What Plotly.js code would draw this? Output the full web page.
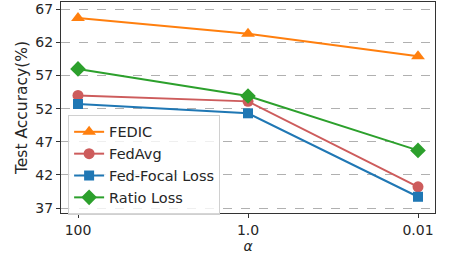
<!DOCTYPE html>
<html><head><meta charset="utf-8">
<script src="https://cdn.plot.ly/plotly-3.0.1.min.js"></script>
<style>html,body{margin:0;padding:0;background:#fff;}#chart{width:451px;height:260px;}</style>
</head><body><div id="chart"></div>
<script>
const alphas = ['100', '1.0', '0.01'];
const fedic = [65.7, 63.3, 59.9];
const fedavg = [54.0, 53.1, 40.2];
const fedFocal = [52.7, 51.3, 38.7];
const ratioLoss = [58.0, 53.9, 45.7];
const yTicks = [37, 42, 47, 52, 57, 62, 67];

function tr(name, y, color, symbol, size) {
  return {x: alphas, y: y, name: name, type: 'scatter', mode: 'lines+markers',
    line: {color: color, width: 2}, marker: {color: color, symbol: symbol, size: size}};
}
const data = [
  tr('FEDIC', fedic, '#ff7f0e', 'triangle-up', 12),
  tr('FedAvg', fedavg, '#cd5c5c', 'circle', 11),
  tr('Fed-Focal Loss', fedFocal, '#1f77b4', 'square', 10),
  tr('Ratio Loss', ratioLoss, '#2ca02c', 'diamond', 12)
];
const layout = {
  width: 451, height: 260,
  margin: {l: 61, r: 16, t: 2, b: 47},
  paper_bgcolor: '#fff', plot_bgcolor: '#fff',
  font: {family: 'DejaVu Sans', size: 14, color: '#262626'},
  showlegend: true,
  legend: {x: 0.019, y: 0.465, xanchor: 'left', yanchor: 'top',
    bgcolor: 'rgba(255,255,255,0.8)', bordercolor: '#d0d0d0', borderwidth: 1,
    font: {family: 'DejaVu Sans', size: 14.5, color: '#262626'}},
  xaxis: {type: 'category', range: [-0.1, 2.1], showline: true, mirror: true,
    linecolor: '#333', linewidth: 1, ticks: 'outside', ticklen: 4, tickcolor: '#333',
    showgrid: false, zeroline: false,
    title: {text: '<i>α</i>', font: {size: 14}, standoff: 4}},
  yaxis: {range: [36.25, 68.1], tickvals: yTicks, ticktext: yTicks.map(String),
    showline: true, mirror: true, linecolor: '#333', linewidth: 1,
    ticks: 'outside', ticklen: 4, tickcolor: '#333',
    showgrid: true, gridcolor: '#b0b0b0', griddash: 'dash', gridwidth: 1, zeroline: false,
    title: {text: 'Test Accuracy(%)', font: {size: 15.5}, standoff: 3}}
};
Plotly.newPlot('chart', data, layout, {displayModeBar: false, staticPlot: true});
</script></body></html>
